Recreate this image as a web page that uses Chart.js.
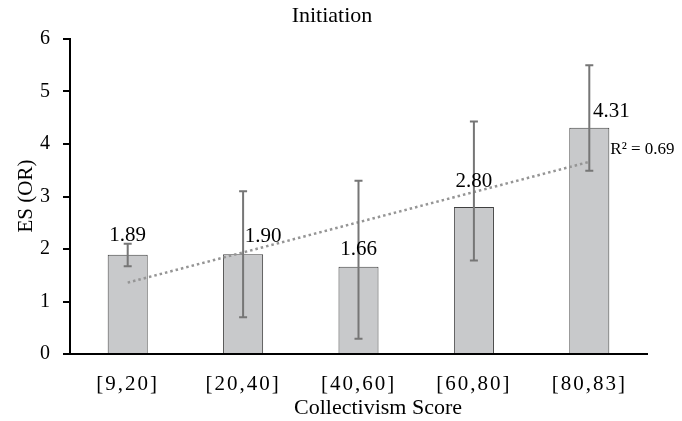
<!DOCTYPE html>
<html>
<head>
<meta charset="utf-8">
<script src="https://cdn.jsdelivr.net/npm/chart.js@4/dist/chart.umd.min.js"></script>
<style>
  html, body { margin: 0; padding: 0; background: #fff; }
  #wrap { width: 682px; height: 421px; }
</style>
</head>
<body>
<div id="wrap"><canvas id="chart" width="682" height="421"></canvas></div>
<script>
const categories = ['[9,20]', '[20,40]', '[40,60]', '[60,80]', '[80,83]'];
const esValues = [1.89, 1.90, 1.66, 2.80, 4.31];
const ciLow = [1.67, 0.70, 0.29, 1.78, 3.49];
const ciHigh = [2.10, 3.10, 3.30, 4.43, 5.50];
// trendline ends
const trendValues = [1.36, null, null, null, 3.66];
const rSquaredText = 'R\u00B2 = 0.69';
const yTicks = [0, 1, 2, 3, 4, 5, 6];

// label nudges (style only)
const labelDx = [0, 20, 0, 0, 22];
const labelDy = [-19, -18, -17, -26, -16];

const serif = '"Liberation Serif", "Times New Roman", serif';

const overlay = {
  id: 'overlay',
  beforeDraw(chart) {
    const x = chart.scales.x;
    if (!x._spaced) {
      const orig = x.drawLabels.bind(x);
      x.drawLabels = function (area) {
        const c = this.ctx;
        c.save();
        c.letterSpacing = '2px';
        orig(area);
        c.restore();
      };
      x._spaced = true;
    }
  },
  afterDatasetsDraw(chart) {
    const ctx = chart.ctx;
    const xs = chart.scales.x, ys = chart.scales.y;

    // error bars
    ctx.save();
    ctx.strokeStyle = '#767676';
    ctx.lineWidth = 2;
    categories.forEach((c, i) => {
      const px = xs.getPixelForValue(i);
      const top = ys.getPixelForValue(ciHigh[i]);
      const bot = ys.getPixelForValue(ciLow[i]);
      ctx.beginPath();
      ctx.moveTo(px, top); ctx.lineTo(px, bot);
      ctx.moveTo(px - 4, top); ctx.lineTo(px + 4, top);
      ctx.moveTo(px - 4, bot); ctx.lineTo(px + 4, bot);
      ctx.stroke();
    });
    ctx.restore();

    // value labels
    ctx.save();
    ctx.fillStyle = '#000';
    ctx.font = '21px ' + serif;
    ctx.textAlign = 'center';
    ctx.textBaseline = 'middle';
    esValues.forEach((v, i) => {
      const px = xs.getPixelForValue(i) + labelDx[i];
      const py = ys.getPixelForValue(v) + labelDy[i];
      ctx.fillText(v.toFixed(2), px, py);
    });

    // R squared
    ctx.font = '17px ' + serif;
    ctx.textAlign = 'left';
    const last = trendValues.length - 1;
    ctx.fillText(rSquaredText, xs.getPixelForValue(last) + 21, ys.getPixelForValue(trendValues[last]) - 12);

    // titles
    ctx.font = '22px ' + serif;
    ctx.textAlign = 'center';
    ctx.fillText('Initiation', 332, 16);
    ctx.fillText('Collectivism Score', 378, 408);
    ctx.translate(26, 196);
    ctx.rotate(-Math.PI / 2);
    ctx.font = '21px ' + serif;
    ctx.fillText('ES (OR)', 0, 0);
    ctx.restore();
  }
};

new Chart(document.getElementById('chart'), {
  data: {
    labels: categories,
    datasets: [
      {
        type: 'line',
        data: trendValues,
        spanGaps: true,
        borderColor: '#959595',
        borderWidth: 2.5,
        borderDash: [2.5, 3],
        pointRadius: 0,
        fill: false,
        order: 0
      },
      {
        type: 'bar',
        data: esValues,
        backgroundColor: '#c8c9cb',
        borderColor: '#404040',
        borderWidth: 1,
        categoryPercentage: 1,
        barPercentage: 0.347,
        order: 1
      }
    ]
  },
  options: {
    responsive: false,
    animation: false,
    layout: { padding: { left: 0, right: 35, top: 39, bottom: 0 } },
    plugins: {
      legend: { display: false },
      title: { display: false },
      tooltip: { enabled: false }
    },
    scales: {
      x: {
        grid: { display: false },
        border: { display: true, color: '#000', width: 2 },
        ticks: {
          color: '#000',
          font: { family: serif, size: 21 },
          padding: 10,
          maxRotation: 0
        },
        afterFit(scale) { scale.height = 67; }
      },
      y: {
        min: 0,
        max: 6,
        afterBuildTicks(scale) { scale.ticks = yTicks.map(v => ({ value: v })); },
        grid: { drawOnChartArea: false, drawTicks: true, tickLength: 7, color: '#000', lineWidth: 2 },
        border: { display: true, color: '#000', width: 2 },
        ticks: {
          color: '#000',
          font: { family: serif, size: 20 },
          padding: 13
        },
        afterFit(scale) { scale.width = 70; }
      }
    }
  },
  plugins: [overlay]
});
</script>
</body>
</html>
